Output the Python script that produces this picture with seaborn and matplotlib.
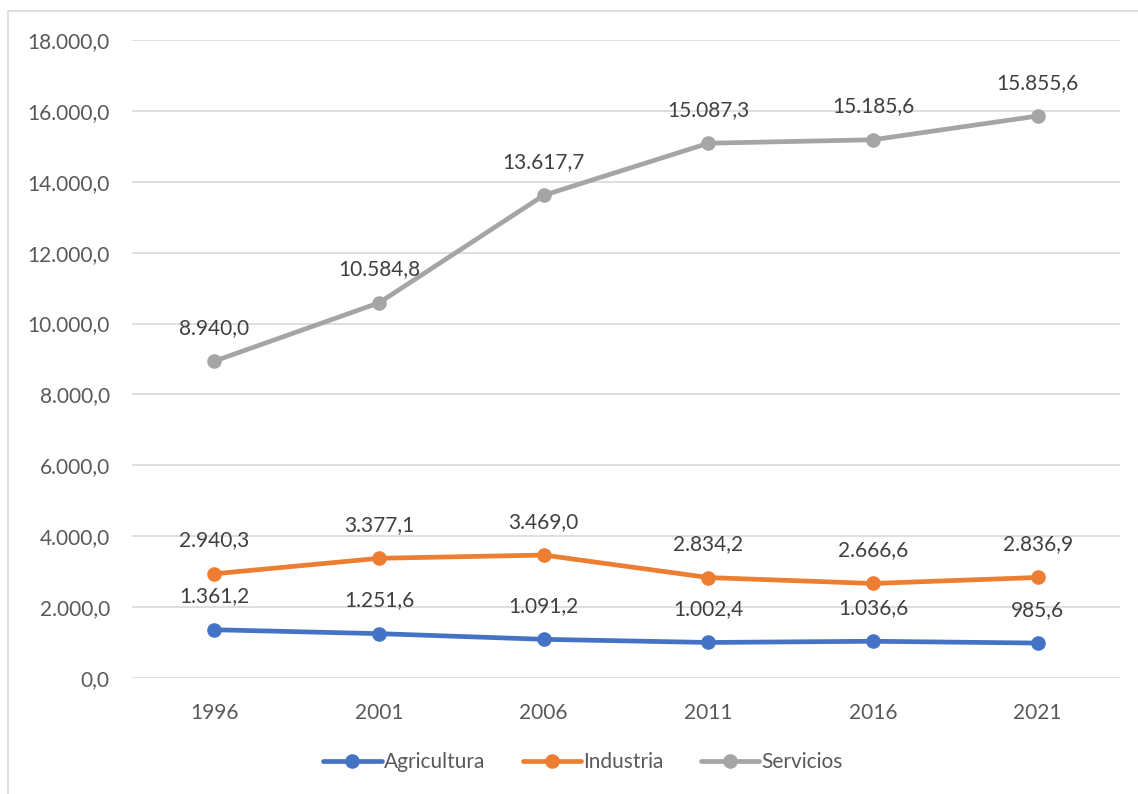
import numpy as np
import pandas as pd
import matplotlib.pyplot as plt
import seaborn as sns
from matplotlib.patches import Rectangle
from matplotlib.ticker import FuncFormatter

years = ['1996', '2001', '2006', '2011', '2016', '2021']
agricultura = [1361.2, 1251.6, 1091.2, 1002.4, 1036.6, 985.6]
industria = [2940.3, 3377.1, 3469.0, 2834.2, 2666.6, 2836.9]
servicios = [8940.0, 10584.8, 13617.7, 15087.3, 15185.6, 15855.6]
series = ['Agricultura', 'Industria', 'Servicios']
colors = ['#4472C4', '#ED7D31', '#A5A5A5']

df = pd.DataFrame({'year': years * 3,
                   'sector': np.repeat(series, len(years)),
                   'value': agricultura + industria + servicios})
df['x'] = np.tile(np.arange(len(years)), 3)

sns.set_style('white')
plt.rcParams['font.family'] = ['Lato', 'DejaVu Sans']


def fmt(v, pos=None):
    s = f'{v:,.1f}'
    return s.replace(',', '_').replace('.', ',').replace('_', '.')


fig = plt.figure(figsize=(11.38, 7.94), dpi=100)
ax = fig.add_axes([132 / 1138, 1 - 678 / 794, (1120 - 132) / 1138, (678 - 40) / 794])

sns.lineplot(data=df, x='x', y='value', hue='sector', palette=colors,
             marker='o', markersize=10.5, markeredgewidth=0, linewidth=3.4, ax=ax)

for name, vals in zip(series, [agricultura, industria, servicios]):
    for i, v in enumerate(vals):
        ax.annotate(fmt(v), (i, v), xytext=(0, 24), textcoords='offset points',
                    ha='center', va='center', fontsize=15, color='#404040')

ax.set_xlim(-0.5, len(years) - 0.5)
ax.set_ylim(0, 18000)
ax.set_yticks(np.arange(0, 18001, 2000))
ax.yaxis.set_major_formatter(FuncFormatter(fmt))
ax.set_xticks(range(len(years)))
ax.set_xticklabels(years)
ax.tick_params(axis='both', length=0, labelsize=15, labelcolor='#595959')
ax.tick_params(axis='y', pad=16)
ax.tick_params(axis='x', pad=18)
ax.grid(axis='y', color='#D9D9D9', linewidth=1.2)
for s in ax.spines.values():
    s.set_visible(False)
ax.set_xlabel('')
ax.set_ylabel('')

handles, labels = ax.get_legend_handles_labels()
ax.legend(handles, labels, loc='center', bbox_to_anchor=(583 / 1138, 1 - 762 / 794),
          bbox_transform=fig.transFigure, ncol=3, frameon=False, fontsize=15,
          labelcolor='#595959', handlelength=2.8, handletextpad=0.1, columnspacing=1.8)

fig.patches.append(Rectangle((8 / 1138, -0.1), 1.2, 1 - 11 / 794 + 0.1,
                             transform=fig.transFigure, fill=False,
                             edgecolor='#D9D9D9', linewidth=1.2))

fig.savefig('out.png', dpi=100)
